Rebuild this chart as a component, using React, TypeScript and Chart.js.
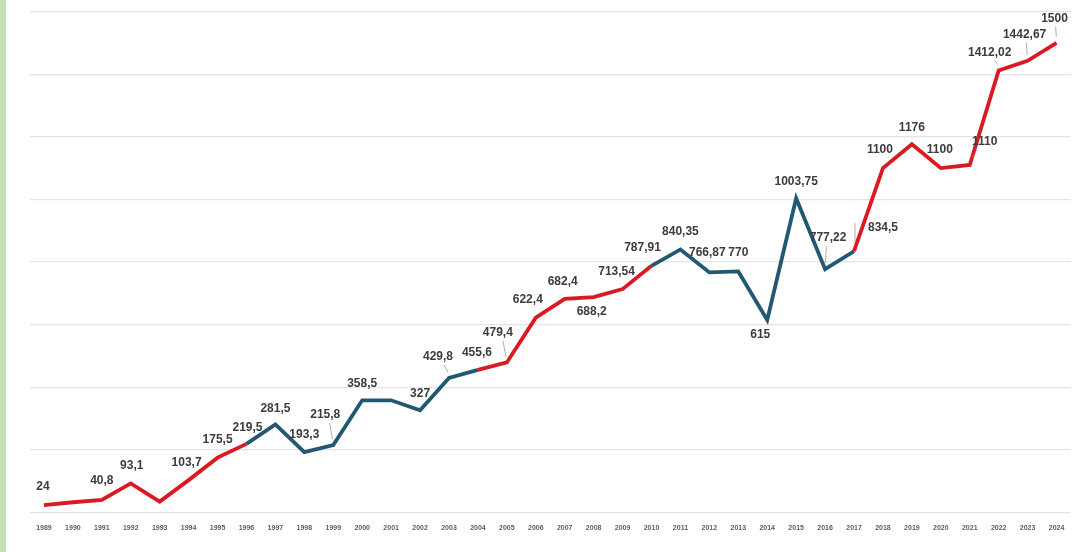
import React, { useEffect, useRef } from 'react';
import { Chart, registerables } from 'chart.js';

Chart.register(...registerables);

const years = [
  '1989', '1990', '1991', '1992', '1993', '1994', '1995', '1996', '1997', '1998', '1999', '2000',
  '2001', '2002', '2003', '2004', '2005', '2006', '2007', '2008', '2009', '2010', '2011', '2012',
  '2013', '2014', '2015', '2016', '2017', '2018', '2019', '2020', '2021', '2022', '2023', '2024',
];

const values = [
  24, 33, 40.8, 93.1, 35, 103.7, 175.5, 219.5, 281.5, 193.3, 215.8, 358.5,
  358.5, 327, 429.8, 455.6, 479.4, 622.4, 682.4, 688.2, 713.54, 787.91, 840.35, 766.87,
  770, 615, 1003.75, 777.22, 834.5, 1100, 1176, 1100, 1110, 1412.02, 1442.67, 1500,
];

// point labels (null = no label in the reference)
const pointLabels: (string | null)[] = [
  '24', null, '40,8', '93,1', null, '103,7', '175,5', '219,5', '281,5', '193,3', '215,8', '358,5',
  null, '327', '429,8', '455,6', '479,4', '622,4', '682,4', '688,2', '713,54', '787,91', '840,35', '766,87',
  '770', '615', '1003,75', '777,22', '834,5', '1100', '1176', '1100', '1110', '1412,02', '1442,67', '1500',
];

// periods: line colour by period
const periodStarts = ['1989', '1996', '2004', '2010', '2017'];
const periodEnds = ['1996', '2004', '2010', '2017', '2024'];
const RED = '#da1a22';
const BLUE = '#215873';
const periodColors = [RED, BLUE, RED, BLUE, RED];

// label placement (layout config): offset from point, and whether a leader line is drawn
const labelDx = [
  -1, 0, 0, 1, 0, -2, 0, 1, 0, 0, -8, 0,
  0, 0, -11, -1, -9, -8, -2, -2, -6, -9, 0, -2,
  0, -7, 0, 3, 29, -3, 0, -1, 15, -9, -3, -2,
];
const labelDy = [
  -18, 0, -19, -18, 0, -17, -18, -16, -16, -17, -30, -17,
  0, -17, -21, -17, -30, -18, -17, 15, -17, -18, -18, -20,
  -19, 15, -17, -31, -24, -18, -17, -18, -23, -18, -26, -24,
];
const leaderIdx = [10, 14, 16, 27, 28, 32, 33, 34, 35];

function segColor(startIdx: number): string {
  const y = Number(years[startIdx]);
  for (let p = 0; p < periodStarts.length; p++) {
    if (y >= Number(periodStarts[p]) && y < Number(periodEnds[p])) return periodColors[p];
  }
  return RED;
}

const labelPlugin = {
  id: 'pointLabelsPlugin',
  afterDatasetsDraw(chart: any) {
    const ctx = chart.ctx;
    const meta = chart.getDatasetMeta(0);
    ctx.save();
    ctx.font = 'bold 12px "Liberation Sans", Arial, sans-serif';
    ctx.fillStyle = '#3c3c3c';
    ctx.textAlign = 'center';
    ctx.textBaseline = 'middle';
    meta.data.forEach((pt: any, i: number) => {
      const txt = pointLabels[i];
      if (!txt) return;
      const lx = pt.x + labelDx[i];
      const ly = pt.y + labelDy[i];
      if (leaderIdx.includes(i)) {
        ctx.save();
        ctx.strokeStyle = 'rgba(150,120,120,0.8)';
        ctx.lineWidth = 0.8;
        ctx.beginPath();
        const ex = pt.x + (lx - pt.x) * 0.1;
        const ey = pt.y - 6;
        let sx: number;
        let sy: number;
        if (i === 28) {
          sx = pt.x + 1;
          sy = ly - 4;
          ctx.moveTo(sx, sy);
          ctx.lineTo(pt.x + 1, pt.y - 8);
        } else {
          sx = lx + (pt.x - lx) * 0.55;
          sy = ly + 8;
          ctx.moveTo(sx, sy);
          ctx.lineTo(ex, Math.max(ey, sy + 2));
        }
        ctx.stroke();
        ctx.restore();
      }
      ctx.fillText(txt, lx, ly);
    });
    ctx.restore();
  },
};

export default function App() {
  const ref = useRef<HTMLCanvasElement | null>(null);

  useEffect(() => {
    if (!ref.current) return;
    const chart = new Chart(ref.current, {
      type: 'line',
      data: {
        labels: years,
        datasets: [
          {
            data: values,
            borderColor: RED,
            borderWidth: 3.8,
            pointRadius: 0,
            tension: 0,
            fill: false,
            segment: {
              borderColor: (c: any) => segColor(c.p0DataIndex),
            },
          },
        ],
      },
      options: {
        animation: false,
        responsive: false,
        maintainAspectRatio: false,
        layout: { padding: { left: 29.5, right: 7, top: 11.5, bottom: 8 } },
        plugins: {
          legend: { display: false },
          tooltip: { enabled: false },
          title: { display: false },
        },
        scales: {
          x: {
            offset: true,
            grid: { display: false, drawTicks: false },
            border: { display: false },
            ticks: {
              padding: 11.5,
              color: '#5e5e5e',
              font: { size: 7, weight: 'bold', family: '"Liberation Sans", Arial, sans-serif' },
              maxRotation: 0,
              autoSkip: false,
            },
          },
          y: {
            min: 0,
            max: 1600,
            display: true,
            grid: { color: '#e4e4e4', lineWidth: 1.2, drawTicks: false },
            border: { display: false },
            ticks: { display: false, stepSize: 200 },
          },
        },
      },
      plugins: [labelPlugin],
    });
    return () => chart.destroy();
  }, []);

  return (
    <div style={{ position: 'fixed', left: 0, top: 0, width: 1078, height: 552, background: '#ffffff' }}>
      <div style={{ position: 'absolute', left: 0, top: 0, width: 6, height: 552, background: '#c5dfb1' }} />
      <canvas ref={ref} width={1078} height={552} style={{ position: 'absolute', left: 0, top: 0 }} />
    </div>
  );
}
